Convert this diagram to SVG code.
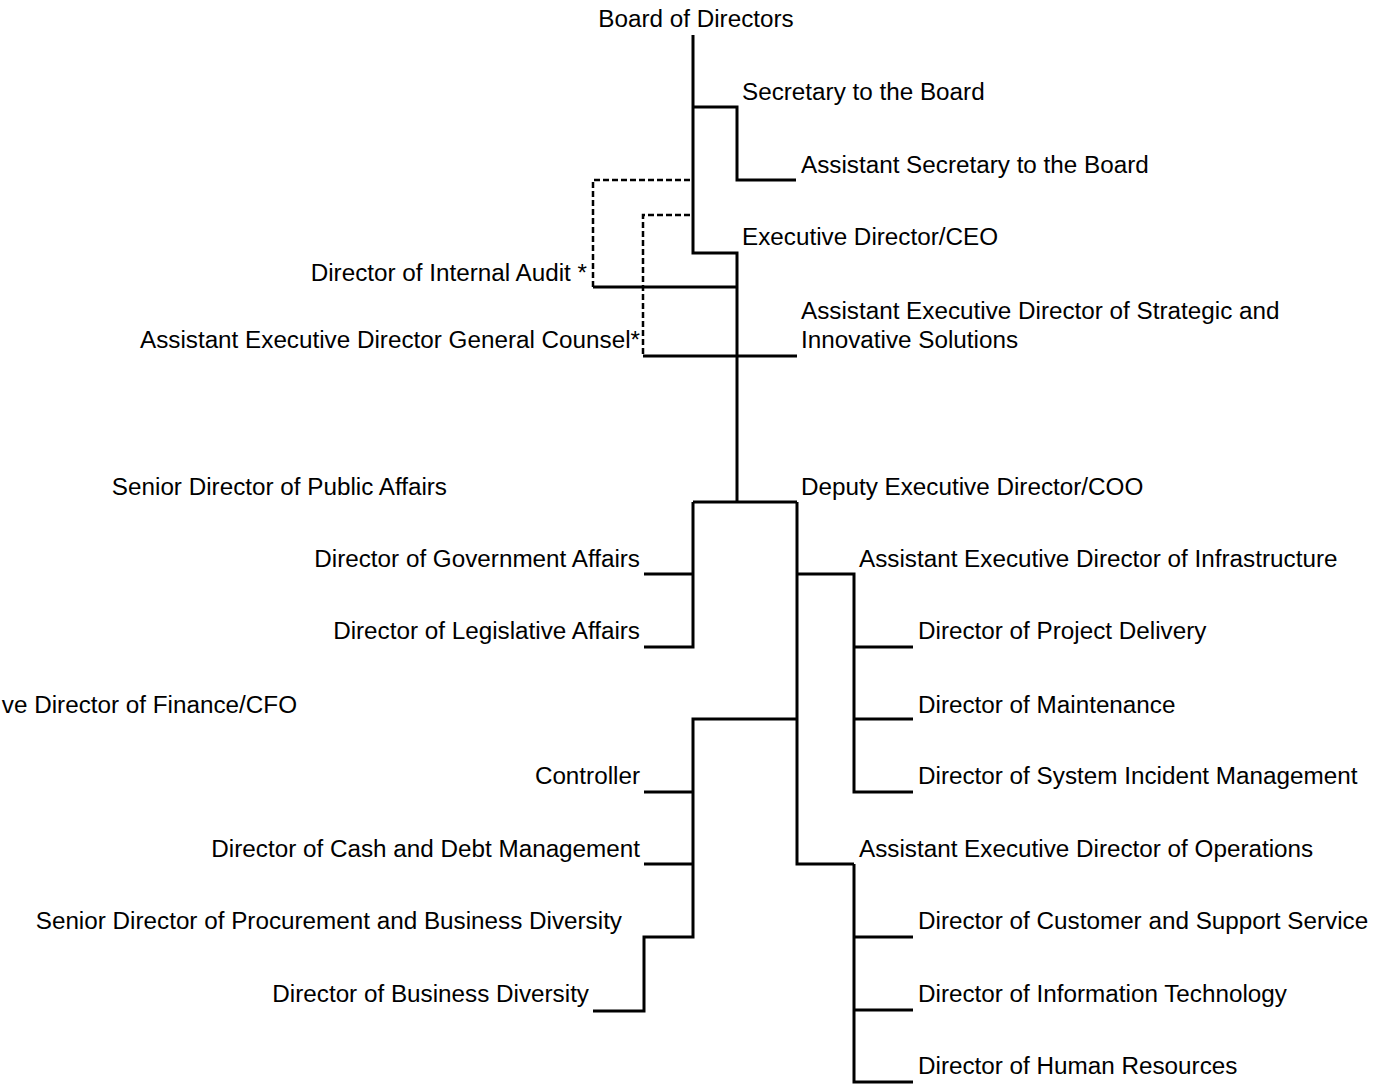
<svg xmlns="http://www.w3.org/2000/svg" width="1374" height="1085" viewBox="0 0 1374 1085">
<style>
text{font-family:"Liberation Sans",Arial,sans-serif;font-size:24.25px;fill:#000}
.r{text-anchor:end}
.c{text-anchor:middle}
.ln{fill:none;stroke:#000;stroke-width:3;stroke-linejoin:miter}
.ds{fill:none;stroke:#000;stroke-width:2.5;stroke-dasharray:6,3}
</style>
<rect width="1374" height="1085" fill="#fff"/>
<g id="connectors">
<path class="ln" d="M693,35 V253 H737 V502"/>
<path class="ln" d="M693,107 H737 V180 H796"/>
<path class="ln" d="M593,287 H737"/>
<path class="ds" d="M690,180 H593 V287"/>
<path class="ds" d="M690,215 H643 V356"/>
<path class="ln" d="M643,356 H797"/>
<path class="ln" d="M693,502 H797"/>
<path class="ln" d="M693,502 V647 H644"/>
<path class="ln" d="M693,574 H644"/>
<path class="ln" d="M797,502 V864 H854"/>
<path class="ln" d="M797,574 H854 V792 H913"/>
<path class="ln" d="M854,647 H913"/>
<path class="ln" d="M854,719 H913"/>
<path class="ln" d="M797,719 H693 V937 H644 V1011 H593"/>
<path class="ln" d="M693,792 H644"/>
<path class="ln" d="M693,864 H644"/>
<path class="ln" d="M854,864 V1082 H913"/>
<path class="ln" d="M854,937 H913"/>
<path class="ln" d="M854,1010 H913"/>
</g>
<g id="board"><text x="696" y="26.5" class="c">Board of Directors</text></g>
<g id="secretary"><text x="742" y="99.5">Secretary to the Board</text></g>
<g id="asst-secretary"><text x="801" y="172.5">Assistant Secretary to the Board</text></g>
<g id="ceo"><text x="742" y="244.5">Executive Director/CEO</text></g>
<g id="internal-audit"><text x="587" y="280.5" class="r">Director of Internal Audit *</text></g>
<g id="strategic"><text x="801" y="319">Assistant Executive Director of Strategic and</text><text x="801" y="348">Innovative Solutions</text></g>
<g id="general-counsel"><text x="640" y="348" class="r">Assistant Executive Director General Counsel*</text></g>
<g id="public-affairs"><text x="447" y="494.5" class="r">Senior Director of Public Affairs</text></g>
<g id="coo"><text x="801" y="494.5">Deputy Executive Director/COO</text></g>
<g id="government-affairs"><text x="640" y="566.5" class="r">Director of Government Affairs</text></g>
<g id="infrastructure"><text x="859" y="566.5">Assistant Executive Director of Infrastructure</text></g>
<g id="legislative-affairs"><text x="640" y="638.5" class="r">Director of Legislative Affairs</text></g>
<g id="project-delivery"><text x="918" y="638.5">Director of Project Delivery</text></g>
<g id="cfo"><text x="297" y="712.5" class="r">ve Director of Finance/CFO</text></g>
<g id="maintenance"><text x="918" y="712.5">Director of Maintenance</text></g>
<g id="controller"><text x="640" y="783.5" class="r">Controller</text></g>
<g id="incident"><text x="918" y="783.5">Director of System Incident Management</text></g>
<g id="cash-debt"><text x="640" y="856.5" class="r">Director of Cash and Debt Management</text></g>
<g id="operations"><text x="859" y="856.5">Assistant Executive Director of Operations</text></g>
<g id="procurement"><text x="622" y="928.5" class="r">Senior Director of Procurement and Business Diversity</text></g>
<g id="customer"><text x="918" y="928.5">Director of Customer and Support Service</text></g>
<g id="business-diversity"><text x="589" y="1001.5" class="r">Director of Business Diversity</text></g>
<g id="it"><text x="918" y="1001.5">Director of Information Technology</text></g>
<g id="hr"><text x="918" y="1073.5">Director of Human Resources</text></g>
</svg>
